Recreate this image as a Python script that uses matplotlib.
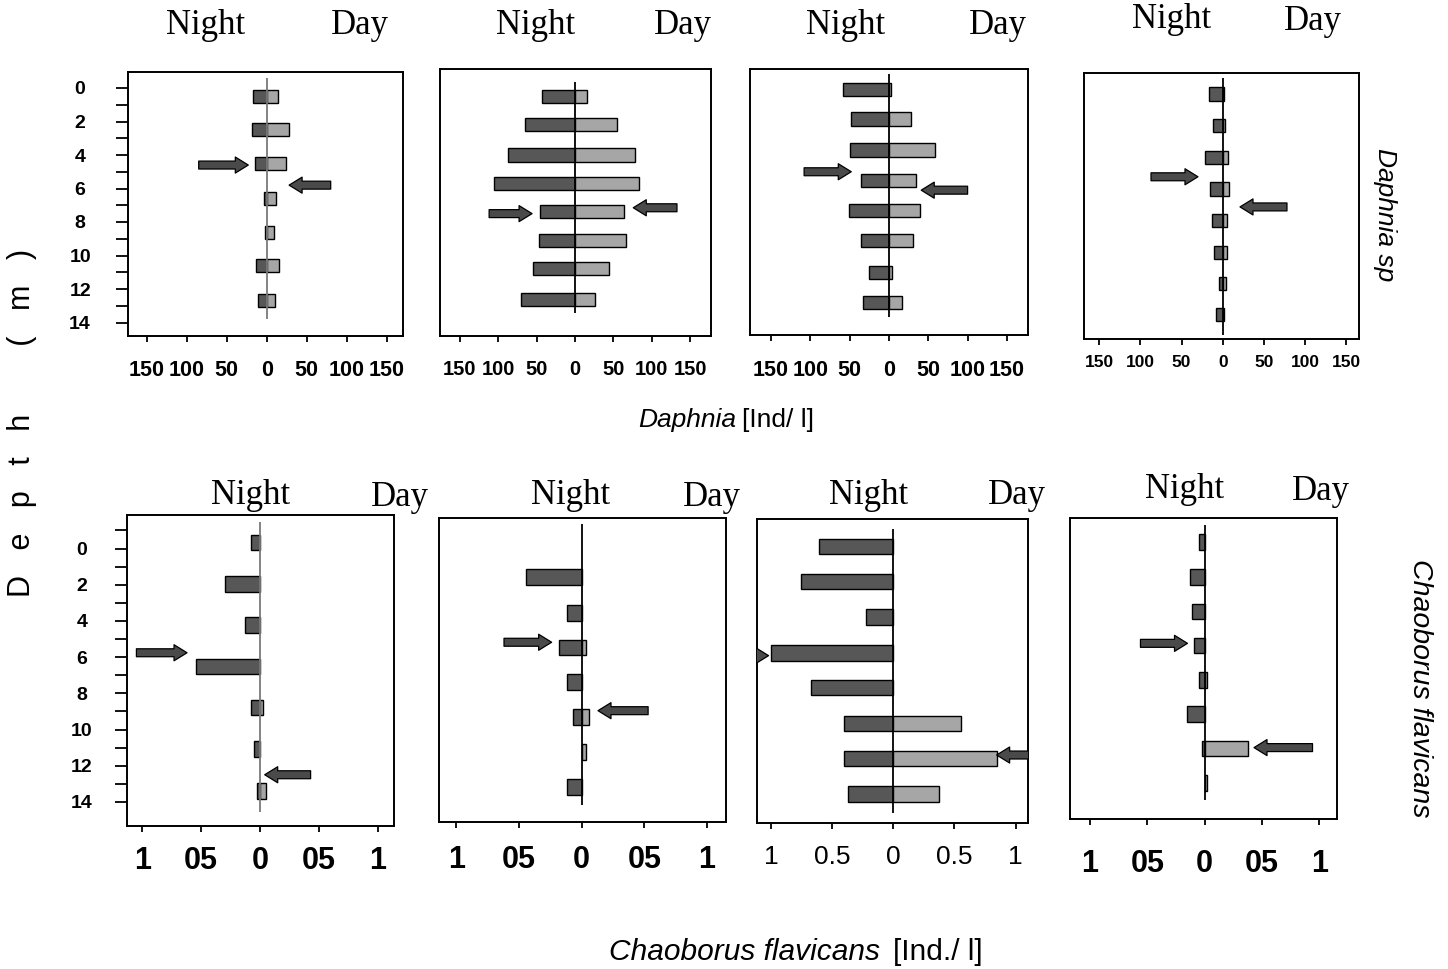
import matplotlib
matplotlib.use("Agg")
import matplotlib.pyplot as plt
from matplotlib.patches import FancyArrowPatch, ArrowStyle

# ---------------------------------------------------------------------------
# Data: depth of each sampled layer (m) and densities at night / by day.
# Arrows: [tail x, tip x, depth] marking the weighted mean depth of the population.
# ---------------------------------------------------------------------------
# Daphnia sp. (Ind/l)
daph1_depth = [0.5, 2.5, 4.5, 6.6, 8.6, 10.6, 12.7]
daph1_night = [17.5, 18, 14.6, 3.3, 1.7, 13.8, 10.4]
daph1_day = [14.6, 28, 23.8, 12, 9.6, 15.8, 10]
daph1_arrow_night = [-85, -23, 4.6]
daph1_arrow_day = [80, 28, 5.8]

daph2_depth = [0.5, 2.2, 4.0, 5.7, 7.4, 9.1, 10.8, 12.6]
daph2_night = [43.5, 65, 88, 105, 45, 46.5, 55, 70]
daph2_day = [16, 55, 78, 84, 64, 66, 44, 26]
daph2_arrow_night = [-112, -56, 7.5]
daph2_arrow_day = [133, 76, 7.15]

daph3_depth = [0.1, 1.85, 3.7, 5.5, 7.3, 9.1, 11.0, 12.8]
daph3_night = [59, 48, 50, 36, 51, 35, 25, 33.5]
daph3_day = [3, 28, 58, 34, 40, 30, 4, 16]
daph3_arrow_night = [-108, -48, 5.0]
daph3_arrow_day = [100, 41, 6.1]

daph4_depth = [0.36, 2.25, 4.14, 6.03, 7.92, 9.81, 11.66, 13.55]
daph4_night = [17, 12, 21, 15.5, 12.5, 10.5, 5, 8.5]
daph4_day = [1.6, 3.2, 6.5, 8, 5.7, 5, 4.5, 2]
daph4_arrow_night = [-87, -30, 5.3]
daph4_arrow_day = [78, 21, 7.1]

# Chaoborus flavicans (Ind./l)
chao1_depth = [-0.34, 1.96, 4.24, 6.53, 8.79, 11.09, 13.39]
chao1_night = [0.077, 0.30, 0.125, 0.547, 0.077, 0.054, 0.023]
chao1_day = [0, 0, 0, 0, 0.023, 0, 0.051]
chao1_arrow_night = [-1.05, -0.62, 5.76]
chao1_arrow_day = [0.43, 0.04, 12.5]

chao2_depth = [1.56, 3.55, 5.46, 7.39, 9.32, 11.23, 13.19]
chao2_night = [0.447, 0.12, 0.178, 0.12, 0.066, 0, 0.12]
chao2_day = [0, 0, 0.032, 0, 0.061, 0.032, 0]
chao2_arrow_night = [-0.62, -0.24, 5.18]
chao2_arrow_day = [0.53, 0.13, 8.96]

chao3_depth = [-0.1, 1.83, 3.77, 5.76, 7.69, 9.66, 11.6, 13.56]
chao3_night = [0.605, 0.757, 0.226, 1.003, 0.676, 0.403, 0.403, 0.373]
chao3_day = [0, 0, 0, 0, 0, 0.553, 0.845, 0.376]
chao3_arrow_night = [-1.3, -1.02, 5.92]
chao3_arrow_day = [1.25, 0.845, 11.41]

chao4_depth = [-0.36, 1.56, 3.48, 5.36, 7.27, 9.14, 11.04, 12.97]
chao4_night = [0.052, 0.131, 0.113, 0.093, 0.052, 0.151, 0.023, 0]
chao4_day = [0, 0, 0, 0, 0.017, 0, 0.378, 0.023]
chao4_arrow_night = [-0.56, -0.15, 5.24]
chao4_arrow_day = [0.94, 0.43, 11.0]

# Axis ticks
daph_xticks = [-150, -100, -50, 0, 50, 100, 150]
daph_xlabels = ["150", "100", "50", "0", "50", "100", "150"]
chao_xticks = [-1, -0.5, 0, 0.5, 1]
chao_xlabels = ["1", "05", "0", "05", "1"]
chao3_xlabels = ["1", "0.5", "0", "0.5", "1"]
depth_labels = [0, 2, 4, 6, 8, 10, 12, 14]

# ---------------------------------------------------------------------------
# Layout (pixel geometry of the 1448 x 969 canvas)
# ---------------------------------------------------------------------------
W, H = 1448, 969
NIGHT_C = "#575757"
DAY_C = "#a6a6a6"
ARROW_C = "#4a4a4a"

# pixel row of 0 m, pixels per metre and bar thickness (m), for upper and lower rows
ROWS = {"top": (88.0, 16.75, 0.78), "bot": (548.5, 18.1, 0.86)}

panels = [
    dict(row="top", box=(128, 72, 403, 336), x0=266.7, pxu=0.8, line=(-0.6, 13.8), lc="#7a7a7a",
         depth=daph1_depth, night=daph1_night, day=daph1_day,
         an=daph1_arrow_night, ad=daph1_arrow_day, yticks=True,
         xt=daph_xticks, xl=daph_xlabels, tfs=15.5, tw="bold", pad=13.2,
         tn=(206, 25), td=(360, 25)),
    dict(row="top", box=(440, 69, 711, 336), x0=575, pxu=0.7667, line=(-0.38, 13.45), lc="black",
         depth=daph2_depth, night=daph2_night, day=daph2_day,
         an=daph2_arrow_night, ad=daph2_arrow_day, yticks=False,
         xt=daph_xticks, xl=daph_xlabels, tfs=14.5, tw="bold", pad=13.2,
         tn=(536, 25), td=(683, 25)),
    dict(row="top", box=(750, 69, 1028, 335), x0=889, pxu=0.786, line=(-0.84, 13.65), lc="black",
         depth=daph3_depth, night=daph3_night, day=daph3_day,
         an=daph3_arrow_night, ad=daph3_arrow_day, yticks=False,
         xt=daph_xticks, xl=daph_xlabels, tfs=15.5, tw="bold", pad=13.9,
         tn=(846, 25), td=(998, 25)),
    dict(row="top", box=(1084, 73, 1359, 339), x0=1222.7, pxu=0.824, line=(-0.58, 14.75), lc="black",
         depth=daph4_depth, night=daph4_night, day=daph4_day,
         an=daph4_arrow_night, ad=daph4_arrow_day, yticks=False,
         xt=daph_xticks, xl=daph_xlabels, tfs=12.5, tw="bold", pad=7.4,
         tn=(1172, 20), td=(1313, 22)),
    dict(row="bot", box=(127, 515, 394, 826), x0=260, pxu=117.7, line=(-1.48, 14.54), lc="#7a7a7a",
         depth=chao1_depth, night=chao1_night, day=chao1_day,
         an=chao1_arrow_night, ad=chao1_arrow_day, yticks=True,
         xt=chao_xticks, xl=chao_xlabels, tfs=22, tw="bold", pad=10.5,
         tn=(251, 495), td=(400, 497)),
    dict(row="bot", box=(439, 518, 726, 822), x0=581.7, pxu=125.3, line=(-1.35, 14.18), lc="black",
         depth=chao2_depth, night=chao2_night, day=chao2_day,
         an=chao2_arrow_night, ad=chao2_arrow_day, yticks=False,
         xt=chao_xticks, xl=chao_xlabels, tfs=22, tw="bold", pad=12.7,
         tn=(571, 495), td=(712, 497)),
    dict(row="bot", box=(757, 519, 1028, 823), x0=893.3, pxu=122.3, line=(-1.06, 14.6), lc="black",
         depth=chao3_depth, night=chao3_night, day=chao3_day,
         an=chao3_arrow_night, ad=chao3_arrow_day, yticks=False,
         xt=chao_xticks, xl=chao3_xlabels, tfs=19, tw="normal", pad=12,
         tn=(869, 495), td=(1017, 495)),
    dict(row="bot", box=(1070, 518, 1337, 819), x0=1204.7, pxu=114.7, line=(-1.3, 13.9), lc="black",
         depth=chao4_depth, night=chao4_night, day=chao4_day,
         an=chao4_arrow_night, ad=chao4_arrow_day, yticks=False,
         xt=chao_xticks, xl=chao_xlabels, tfs=22, tw="bold", pad=17.7,
         tn=(1185, 490), td=(1321, 492)),
]

SANS = ["Liberation Sans", "DejaVu Sans"]
SERIF = ["Liberation Serif", "DejaVu Serif"]
plt.rcParams["font.family"] = SANS

fig = plt.figure(figsize=(W / 100, H / 100), dpi=100)
fig.patch.set_facecolor("white")

arrow_style = ArrowStyle.Simple(head_length=0.85, head_width=1.05, tail_width=0.52)


def add_arrow(ax, spec):
    tail, tip, depth = spec
    arr = FancyArrowPatch((tail, depth), (tip, depth), arrowstyle=arrow_style,
                          mutation_scale=11, shrinkA=0, shrinkB=0,
                          facecolor=ARROW_C, edgecolor="black", linewidth=0.9, zorder=4)
    ax.add_patch(arr)


for p in panels:
    d0, pxm, bar_h = ROWS[p["row"]]
    L, T, R, B = p["box"]
    ax = fig.add_axes([L / W, 1 - B / H, (R - L) / W, (B - T) / H])
    ax.set_xlim((L - p["x0"]) / p["pxu"], (R - p["x0"]) / p["pxu"])
    ax.set_ylim((B - d0) / pxm, (T - d0) / pxm)

    # night bars to the left, day bars to the right
    for y, v in zip(p["depth"], p["night"]):
        if v > 0:
            ax.barh(y, -v, height=bar_h, color=NIGHT_C, edgecolor="black", linewidth=1.0, zorder=2)
    for y, v in zip(p["depth"], p["day"]):
        if v > 0:
            ax.barh(y, v, height=bar_h, color=DAY_C, edgecolor="black", linewidth=1.0, zorder=2)

    ax.vlines(0, p["line"][0], p["line"][1], color=p["lc"], linewidth=1.3, zorder=3)

    add_arrow(ax, p["an"])
    add_arrow(ax, p["ad"])

    for s in ax.spines.values():
        s.set_linewidth(1.4)
        s.set_color("black")

    ax.set_xticks(p["xt"])
    ax.set_xticklabels(p["xl"], fontsize=p["tfs"], fontweight=p["tw"])
    ax.tick_params(axis="x", direction="out", length=4, width=1.3, pad=p["pad"])

    if p["yticks"]:
        lo = -1 if p["row"] == "bot" else 0
        ticks = list(range(lo, 15))
        ax.set_yticks(ticks)
        ax.set_yticklabels([str(t) if t in depth_labels else "" for t in ticks],
                           fontsize=14, fontweight="bold")
        ax.tick_params(axis="y", direction="out", length=8.5, width=1.3,
                       pad=26 if p["row"] == "top" else 24)
        for lbl in ax.get_yticklabels():
            lbl.set_ha("center")
    else:
        ax.set_yticks([])

    fig.text(p["tn"][0] / W, 1 - p["tn"][1] / H, "Night", family=SERIF, fontsize=25,
             ha="center", va="center")
    fig.text(p["td"][0] / W, 1 - p["td"][1] / H, "Day", family=SERIF, fontsize=25,
             ha="center", va="center")

# Shared labels
fig.text(22 / W, 1 - 423 / H, "D   e   p   t   h        (   m   )", rotation=90,
         fontsize=22, ha="center", va="center")
fig.text(1385 / W, 1 - 215 / H, "Daphnia sp", rotation=-90, style="italic",
         fontsize=19, ha="center", va="center")
fig.text(1420 / W, 1 - 688 / H, "Chaoborus flavicans", rotation=-90, style="italic",
         fontsize=20.5, ha="center", va="center")

fig.text(736 / W, 1 - 420 / H, "Daphnia", style="italic", fontsize=19, ha="right", va="center")
fig.text(742 / W, 1 - 420 / H, "[Ind/ l]", fontsize=19, ha="left", va="center")
fig.text(880 / W, 1 - 952 / H, "Chaoborus flavicans", style="italic", fontsize=21.5,
         ha="right", va="center")
fig.text(893 / W, 1 - 952 / H, "[Ind./ l]", fontsize=21.5, ha="left", va="center")

fig.savefig("out.png", dpi=100, facecolor="white")
